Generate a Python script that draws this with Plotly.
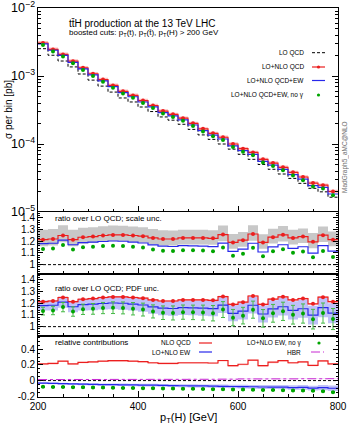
import plotly.graph_objects as go
from plotly.subplots import make_subplots

# 30 bins of 20 GeV in pT(H)
bin_lo = list(range(200, 800, 20))
bin_hi = 800

# LO QCD cross section per bin [pb]
lo_qcd = [2.52e-3, 2.02e-3, 1.66e-3, 1.36e-3, 1.07e-3, 8.7e-4, 7.1e-4, 5.8e-4, 4.75e-4, 4.15e-4,
          3.5e-4, 3.0e-4, 2.5e-4, 2.24e-4, 1.95e-4, 1.64e-4, 1.36e-4, 1.17e-4, 1.0e-4, 8.4e-5,
          7.05e-5, 5.95e-5, 5.0e-5, 4.25e-5, 3.62e-5, 3.12e-5, 2.64e-5, 2.23e-5, 1.98e-5, 1.65e-5]

# LO+NLO QCD over LO QCD
k_qcd = [1.213, 1.219, 1.249, 1.213, 1.234, 1.240, 1.249, 1.254, 1.254, 1.249,
         1.243, 1.228, 1.219, 1.219, 1.228, 1.228, 1.228, 1.225, 1.257, 1.190,
         1.209, 1.262, 1.190, 1.235, 1.255, 1.228, 1.240, 1.195, 1.252, 1.213]

# relative contributions (over LO QCD)
ew_rel = [-0.033, -0.036, -0.040, -0.043, -0.045, -0.048, -0.051, -0.052, -0.054, -0.056,
          -0.058, -0.059, -0.061, -0.064, -0.066, -0.067, -0.069, -0.071, -0.073, -0.076,
          -0.077, -0.079, -0.082, -0.083, -0.085, -0.089, -0.087, -0.097, -0.090, -0.098]
nogam_rel = [-0.080, -0.081, -0.082, -0.084, -0.086, -0.088, -0.090, -0.092, -0.094, -0.096,
             -0.097, -0.098, -0.100, -0.102, -0.104, -0.106, -0.108, -0.110, -0.111, -0.113,
             -0.115, -0.117, -0.119, -0.121, -0.124, -0.126, -0.128, -0.131, -0.136, -0.148]
hbr_rel = [0.013, 0.013, 0.013, 0.014, 0.014, 0.014, 0.014, 0.015, 0.015, 0.015,
           0.015, 0.016, 0.016, 0.016, 0.016, 0.017, 0.017, 0.017, 0.018, 0.018,
           0.021, 0.021, 0.021, 0.022, 0.022, 0.022, 0.023, 0.023, 0.023, 0.024]

# uncertainties (ratio units)
scale_up = [0.085, 0.085, 0.088, 0.085, 0.082, 0.080, 0.080, 0.080, 0.078, 0.078,
            0.076, 0.076, 0.075, 0.072, 0.070, 0.070, 0.070, 0.070, 0.078, 0.072,
            0.070, 0.075, 0.070, 0.072, 0.075, 0.070, 0.070, 0.075, 0.075, 0.070]
scale_dn = [0.055, 0.055, 0.058, 0.055, 0.055, 0.055, 0.055, 0.055, 0.055, 0.055,
            0.055, 0.055, 0.055, 0.055, 0.055, 0.055, 0.055, 0.055, 0.058, 0.055,
            0.055, 0.058, 0.055, 0.055, 0.058, 0.055, 0.055, 0.055, 0.058, 0.055]
pdf_blue = [0.043, 0.045, 0.047, 0.048, 0.050, 0.051, 0.052, 0.054, 0.055, 0.056,
            0.057, 0.058, 0.060, 0.061, 0.062, 0.063, 0.065, 0.066, 0.067, 0.068,
            0.070, 0.071, 0.072, 0.074, 0.075, 0.077, 0.078, 0.080, 0.082, 0.085]
pdf_green = [0.033, 0.036, 0.040, 0.040, 0.044, 0.046, 0.048, 0.050, 0.051, 0.053,
             0.055, 0.056, 0.058, 0.060, 0.061, 0.062, 0.064, 0.066, 0.068, 0.070,
             0.071, 0.073, 0.075, 0.076, 0.078, 0.080, 0.082, 0.084, 0.086, 0.090]
ew_band = [0.012, 0.012, 0.013, 0.013, 0.014, 0.014, 0.015, 0.015, 0.016, 0.016,
           0.017, 0.017, 0.018, 0.018, 0.019, 0.020, 0.020, 0.021, 0.022, 0.022,
           0.023, 0.024, 0.025, 0.026, 0.027, 0.028, 0.029, 0.031, 0.033, 0.035]

edges = bin_lo + [bin_hi]
centers = [b + 10 for b in bin_lo]
k_qcdew = [k + e for k, e in zip(k_qcd, ew_rel)]
k_nogam = [k + g for k, g in zip(k_qcd, nogam_rel)]

RED = "rgb(235,30,30)"
BLUE = "rgb(40,40,235)"
GREEN = "rgb(0,165,0)"
MAGENTA = "rgb(200,40,210)"
FONT = "Liberation Sans"
DASH = "3px,2px"


def st(vals):
    return list(vals) + [vals[-1]]


def line(fig, vals, row, color, dash="solid", width=1.2):
    fig.add_trace(go.Scatter(x=edges, y=st(vals), mode="lines", line_shape="hv",
                             line=dict(color=color, width=width, dash=dash),
                             hoverinfo="skip"), row=row, col=1)


def band(fig, lo, hi, row, color):
    fig.add_trace(go.Scatter(x=edges, y=st(lo), mode="lines", line_shape="hv",
                             line=dict(width=0), hoverinfo="skip"), row=row, col=1)
    fig.add_trace(go.Scatter(x=edges, y=st(hi), mode="lines", line_shape="hv",
                             line=dict(width=0), fill="tonexty", fillcolor=color,
                             hoverinfo="skip"), row=row, col=1)


def dots(fig, vals, row, color, size=4, err=None, errcolor=None):
    fig.add_trace(go.Scatter(x=centers, y=vals, mode="markers",
                             marker=dict(color=color, size=size),
                             error_y=dict(type="data", array=err, visible=err is not None,
                                          color=errcolor or color, thickness=1, width=2),
                             hoverinfo="skip"), row=row, col=1)


fig = make_subplots(rows=4, cols=1, shared_xaxes=True, vertical_spacing=0,
                    row_heights=[204, 62, 62, 61])

# main panel
lo_line = [1.0] * len(bin_lo)
band(fig, [l * (k - d) for l, k, d in zip(lo_qcd, k_qcd, scale_dn)],
     [l * (k + u) for l, k, u in zip(lo_qcd, k_qcd, scale_up)], 1, "rgba(255,140,140,0.55)")
line(fig, lo_qcd, 1, "black", dash=DASH, width=1)
line(fig, [l * k for l, k in zip(lo_qcd, k_qcd)], 1, RED)
dots(fig, [l * k for l, k in zip(lo_qcd, k_qcd)], 1, RED, size=4)
line(fig, [l * k for l, k in zip(lo_qcd, k_qcdew)], 1, BLUE)
dots(fig, [l * k for l, k in zip(lo_qcd, k_nogam)], 1, GREEN, size=4)

# scale uncertainty ratio
band(fig, [k - d for k, d in zip(k_qcd, scale_dn)], [k + u for k, u in zip(k_qcd, scale_up)],
     2, "rgb(200,200,200)")
line(fig, lo_line, 2, "black", dash=DASH, width=1)
line(fig, k_qcd, 2, RED)
dots(fig, k_qcd, 2, RED, size=4)
line(fig, k_qcdew, 2, BLUE)
dots(fig, k_nogam, 2, GREEN, size=4)

# PDF uncertainty ratio
band(fig, [k - p for k, p in zip(k_qcdew, pdf_blue)], [k + p for k, p in zip(k_qcdew, pdf_blue)],
     3, "rgba(150,150,245,0.6)")
band(fig, [k - 0.008 for k in k_qcd], [k + 0.008 for k in k_qcd], 3, "rgba(255,140,140,0.5)")
line(fig, lo_line, 3, "black", dash=DASH, width=1)
line(fig, k_qcd, 3, RED)
dots(fig, k_qcd, 3, RED, size=4)
line(fig, k_qcdew, 3, BLUE)
dots(fig, k_nogam, 3, GREEN, size=4, err=pdf_green, errcolor="rgb(70,185,70)")

# relative contributions
nlo_qcd = [k - 1 for k in k_qcd]
band(fig, [n - 0.012 for n in nlo_qcd], nlo_qcd, 4, "rgba(255,140,140,0.5)")
line(fig, nlo_qcd, 4, RED)
line(fig, [0.0] * len(bin_lo), 4, "black", dash=DASH, width=1)
band(fig, [h - 0.004 for h in hbr_rel], [h + 0.004 for h in hbr_rel], 4, "rgba(230,160,240,0.6)")
line(fig, hbr_rel, 4, MAGENTA, dash="dashdot", width=1)
band(fig, [e - b for e, b in zip(ew_rel, ew_band)], [e + b for e, b in zip(ew_rel, ew_band)],
     4, "rgba(150,150,245,0.6)")
line(fig, ew_rel, 4, BLUE)
dots(fig, nogam_rel, 4, GREEN, size=4, err=[0.006] * len(bin_lo))

tickfont = dict(family=FONT, size=10, color="black")
fig.update_xaxes(range=[200, 800], showline=True, linecolor="black", linewidth=1, mirror=True,
                 ticks="inside", ticklen=6, dtick=200, tickcolor="black", showgrid=False,
                 zeroline=False, tickfont=tickfont, automargin=False,
                 ticklabeloverflow="allow",
                 minor=dict(ticks="inside", dtick=50, ticklen=3, tickcolor="black"))
fig.update_yaxes(showline=True, linecolor="black", linewidth=1, mirror="ticks", ticks="inside",
                 tickcolor="black", showgrid=False, zeroline=False, tickfont=tickfont,
                 automargin=False, ticklabeloverflow="allow")
fig.update_yaxes(type="log", range=[-5, -2], dtick=1, exponentformat="power", ticklen=6,
                 minor=dict(ticks="inside", ticklen=3, dtick="D1", tickcolor="black"),
                 row=1, col=1)
ratio_ticks = dict(range=[0.92, 1.45], tickvals=[1, 1.1, 1.2, 1.3, 1.4],
                   ticktext=["1", "1.1", "1.2", "1.3", "1.4"], ticklen=5,
                   minor=dict(ticks="inside", dtick=0.02, ticklen=2, tickcolor="black"))
fig.update_yaxes(row=2, col=1, **ratio_ticks)
fig.update_yaxes(row=3, col=1, **ratio_ticks)
fig.update_yaxes(row=4, col=1, range=[-0.21, 0.57], tickvals=[-0.2, 0, 0.2, 0.4],
                 ticktext=["-0.2", "0", "0.2", "0.4"], ticklen=5,
                 minor=dict(ticks="inside", dtick=0.05, ticklen=2, tickcolor="black"))


def px(x):
    return (x - 38) / 300


def py(y):
    return (397 - y) / 389


def text(s, x, y, size=7, anchor="left", **kw):
    color = kw.pop("color", "black")
    fig.add_annotation(text=s, x=px(x), y=py(y), xref="paper", yref="paper", showarrow=False,
                       xanchor=anchor, yanchor="middle",
                       font=dict(family=FONT, size=size, color=color), **kw)


def hline(x0, x1, y, color, dash="solid", width=1.2):
    fig.add_shape(type="line", x0=px(x0), x1=px(x1), y0=py(y), y1=py(y), xref="paper",
                  yref="paper", line=dict(color=color, dash=dash, width=width))


def dot(x, y, color, r=1.6):
    fig.add_shape(type="circle", x0=px(x - r), x1=px(x + r), y0=py(y - r), y1=py(y + r),
                  xref="paper", yref="paper", fillcolor=color, line=dict(width=0))


# axis titles
text("σ per bin [pb]", 8, 110, size=10, anchor="center", textangle=-90)
text("p<sub>T</sub>(H) [GeV]", 188, 418, size=11, anchor="center")

text("tt\u0304H production at the 13 TeV LHC", 67, 23, size=10)
text("boosted cuts: p<sub>T</sub>(t), p<sub>T</sub>(t\u0304), p<sub>T</sub>(H) &gt; 200 GeV",
     67, 33, size=8)

text("LO QCD", 306, 52.7, size=6.5, anchor="right")
hline(312, 325, 52.7, "black", dash=DASH, width=1)
text("LO+NLO QCD", 306, 67, size=6.5, anchor="right")
hline(312, 325, 67, RED)
dot(318.5, 67, RED)
text("LO+NLO QCD+EW", 306, 80.5, size=6.5, anchor="right")
hline(312, 325, 80.5, BLUE)
text("LO+NLO QCD+EW, no γ", 306, 95, size=6.5, anchor="right")
dot(318.5, 95, GREEN)

text("MadGraph5_aMC@NLO", 345, 157, size=6.5, anchor="center", textangle=-90,
     color="rgb(110,110,110)")

text("ratio over LO QCD; scale unc.", 53, 218.5, size=8)
text("ratio over LO QCD; PDF unc.", 53, 288.5, size=8)
text("relative contributions", 53, 342, size=8)

text("NLO QCD", 193, 343, size=6.5, anchor="right")
hline(199, 212, 343, RED)
text("LO+NLO EW", 193, 352, size=6.5, anchor="right")
hline(199, 212, 352, BLUE)
text("LO+NLO EW, no γ", 303, 343, size=6.5, anchor="right")
dot(319, 343, GREEN)
text("HBR", 303, 352, size=6.5, anchor="right")
hline(311, 324, 352, MAGENTA, dash="dashdot", width=1)

fig.update_layout(width=349, height=428, margin=dict(l=38, r=11, t=8, b=31),
                  paper_bgcolor="white", plot_bgcolor="white", showlegend=False,
                  font=dict(family=FONT, color="black"))

# the page body has a default 8px margin; drop it so the figure fills the window
fig.write_html("out.html", config={"displayModeBar": False},
               post_script="document.body.style.margin='0';")
